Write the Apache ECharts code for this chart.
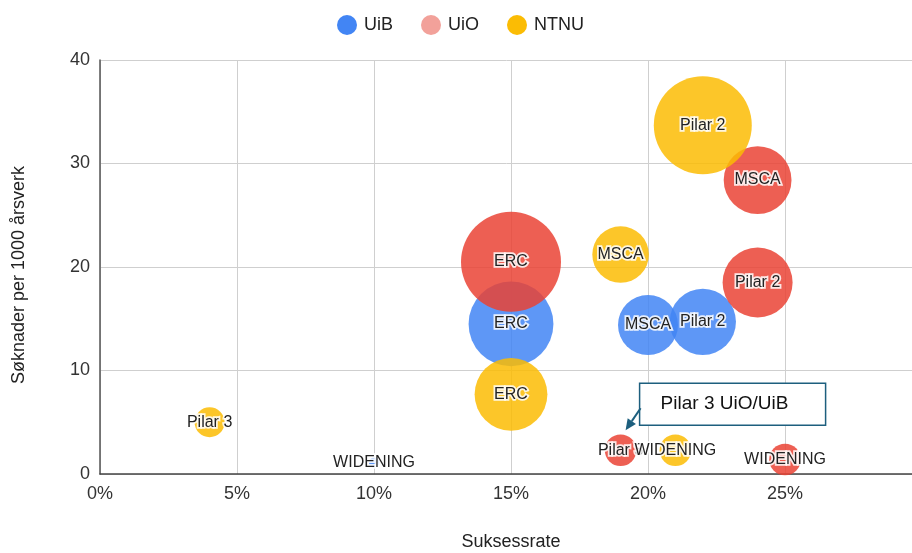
<!DOCTYPE html>
<html>
<head>
<meta charset="utf-8">
<script src="https://cdn.jsdelivr.net/npm/echarts@6/dist/echarts.min.js"></script>
<style>
  html, body { margin: 0; padding: 0; background: #fff; }
  #chart { width: 912px; height: 553px; }
</style>
</head>
<body>
<div id="chart"></div>
<script>
// bubble chart: success rate vs applications per 1000 FTE, bubble = volume
const institutions = ['UiB', 'UiO', 'NTNU'];

const uibNames = ['ERC', 'MSCA', 'Pilar 2', 'WIDENING'];
const uibRate = [15, 20, 22, 10];
const uibApps = [14.5, 14.4, 14.7, 1.1];
const uibSize = [72, 36, 44, 1];

const uioNames = ['ERC', 'MSCA', 'Pilar 2', 'Pilar 3', 'WIDENING'];
const uioRate = [15, 24, 24, 19, 25];
const uioApps = [20.5, 28.4, 18.5, 2.3, 1.4];
const uioSize = [100, 46, 49, 10, 10];

const ntnuNames = ['ERC', 'MSCA', 'Pilar 2', 'Pilar 3', 'WIDENING'];
const ntnuRate = [15, 19, 22, 4, 21];
const ntnuApps = [7.7, 21.2, 33.7, 5.0, 2.3];
const ntnuSize = [53, 32, 96, 9, 10];

const xTicks = [0, 5, 10, 15, 20, 25];
const yTicks = [0, 10, 20, 30, 40];

const colors = { UiB: '#4285F4', UiO: '#EA4335', NTNU: '#FBBC04' };
const legendColors = { UiB: '#4285F4', UiO: '#F2A19A', NTNU: '#FBBC04' };

function points(names, rate, apps, size) {
  return names.map((n, i) => ({ name: n, value: [rate[i], apps[i], size[i]] }));
}

const labelBase = {
  show: true,
  position: 'inside',
  formatter: p => p.name,
  fontFamily: 'Liberation Sans',
  fontSize: 16
};

// bubbles carry a white halo label, a second see-through layer writes the dark text on top
function bubbles(name, data) {
  return [
    {
      name: name,
      type: 'scatter',
      data: data,
      symbolSize: v => 10 * Math.sqrt(v[2]),
      itemStyle: { color: colors[name], opacity: 0.85 },
      emphasis: { disabled: true },
      label: Object.assign({}, labelBase, { color: '#fff', textBorderColor: '#fff', textBorderWidth: 3.5 })
    },
    {
      name: name,
      type: 'scatter',
      data: data,
      silent: true,
      symbolSize: v => 10 * Math.sqrt(v[2]),
      itemStyle: { color: 'rgba(0,0,0,0)', opacity: 1 },
      emphasis: { disabled: true },
      label: Object.assign({}, labelBase, { color: '#222' })
    }
  ];
}

const chart = echarts.init(document.getElementById('chart'));

chart.setOption({
  animation: false,
  textStyle: { fontFamily: 'Liberation Sans' },
  grid: { left: 100, right: -10, top: 60, bottom: 79, outerBoundsMode: 'none' },
  legend: {
    data: institutions.map(n => ({ name: n, itemStyle: { color: legendColors[n], opacity: 1 } })),
    top: 10,
    left: 332,
    icon: 'circle',
    itemWidth: 20,
    itemHeight: 20,
    itemGap: 28,
    textStyle: { fontSize: 18, color: '#222', padding: [0, 0, 0, 2] }
  },
  xAxis: {
    type: 'value',
    min: xTicks[0],
    max: 30,
    interval: 5,
    name: 'Suksessrate',
    nameLocation: 'middle',
    nameGap: 59,
    nameTextStyle: { fontSize: 18, color: '#222', verticalAlign: 'top' },
    axisLine: { show: true, onZero: false, lineStyle: { color: '#444', width: 1.5 } },
    axisTick: { show: false },
    axisLabel: {
      fontSize: 18, color: '#333', margin: 11, showMaxLabel: false,
      formatter: v => (xTicks.includes(v) ? v + '%' : '')
    },
    splitLine: { show: true, lineStyle: { color: '#cfcfcf', width: 1 } }
  },
  yAxis: {
    type: 'value',
    min: yTicks[0],
    max: yTicks[yTicks.length - 1],
    interval: 10,
    name: 'Søknader per 1000 årsverk',
    nameLocation: 'middle',
    nameGap: 72,
    nameTextStyle: { fontSize: 18, color: '#222', padding: [0, 0, 0, -16] },
    axisLine: { show: true, onZero: false, lineStyle: { color: '#555', width: 1.5 } },
    axisTick: { show: false },
    axisLabel: { fontSize: 18, color: '#333', margin: 10 },
    splitLine: { show: true, lineStyle: { color: '#cfcfcf', width: 1 } }
  },
  series: [].concat(
    bubbles('UiB', points(uibNames, uibRate, uibApps, uibSize)),
    bubbles('UiO', points(uioNames, uioRate, uioApps, uioSize)),
    bubbles('NTNU', points(ntnuNames, ntnuRate, ntnuApps, ntnuSize))
  )
});

// callout box pointing at UiO Pilar 3
const idx = uioNames.indexOf('Pilar 3');
const p = chart.convertToPixel({ seriesIndex: 2 }, [uioRate[idx], uioApps[idx]]);
const tip = [p[0] + 5, p[1] - 20];
const start = [p[0] + 20, p[1] - 42];
const ang = Math.atan2(tip[1] - start[1], tip[0] - start[0]);
const hl = 11, hw = 5;
const base = [tip[0] - hl * Math.cos(ang), tip[1] - hl * Math.sin(ang)];
const head = [
  tip,
  [base[0] + hw * Math.sin(ang), base[1] - hw * Math.cos(ang)],
  [base[0] - hw * Math.sin(ang), base[1] + hw * Math.cos(ang)]
];
const calloutColor = '#1D5F7E';

chart.setOption({
  graphic: [
    {
      type: 'rect',
      shape: { x: p[0] + 19, y: p[1] - 67, width: 186, height: 42 },
      style: { fill: '#fff', stroke: calloutColor, lineWidth: 1.5 },
      z: 100
    },
    {
      type: 'text',
      x: p[0] + 40,
      y: p[1] - 46,
      style: {
        text: 'Pilar 3 UiO/UiB',
        fontFamily: 'Liberation Sans',
        fontSize: 19,
        fill: '#111',
        verticalAlign: 'middle'
      },
      z: 101
    },
    {
      type: 'line',
      shape: { x1: start[0], y1: start[1], x2: base[0], y2: base[1] },
      style: { stroke: calloutColor, lineWidth: 2 },
      z: 101
    },
    {
      type: 'polygon',
      shape: { points: head },
      style: { fill: calloutColor },
      z: 101
    }
  ]
});
</script>
</body>
</html>
